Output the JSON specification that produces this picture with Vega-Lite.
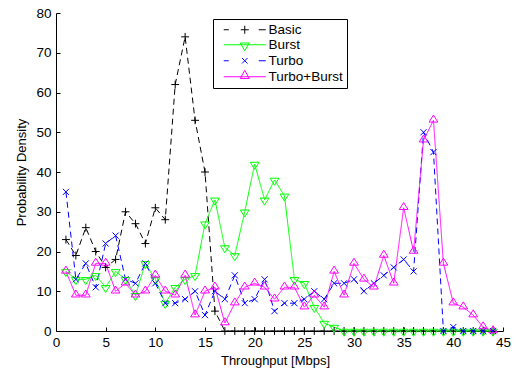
{
  "$schema": "https://vega.github.io/schema/vega-lite/v6.json",
  "width": 447,
  "height": 318,
  "autosize": "none",
  "padding": {"left": 56, "top": 13, "right": 17, "bottom": 43},
  "background": "white",
  "config": {
    "view": {"stroke": null},
    "font": "Liberation Sans",
    "axis": {
      "grid": false,
      "domainColor": "#000000",
      "tickColor": "#000000",
      "labelColor": "#000000",
      "titleColor": "#000000",
      "labelFont": "Liberation Sans",
      "titleFont": "Liberation Sans",
      "labelFontSize": 13.5,
      "titleFontSize": 13,
      "titleFontWeight": "normal",
      "tickSize": -4,
      "labelFlush": false,
      "labelOverlap": false
    },
    "legend": {
      "orient": "none",
      "legendX": 157,
      "legendY": 6,
      "padding": 4,
      "strokeColor": "#000000",
      "fillColor": "#ffffff",
      "labelFont": "Liberation Sans",
      "labelFontSize": 13.5,
      "labelColor": "#000000",
      "rowPadding": 0,
      "symbolSize": 100,
      "symbolStrokeWidth": 1,
      "symbolOffset": 21,
      "labelOffset": 17,
      "cornerRadius": 0
    }
  },
  "data": {
    "values": [
      {"x": 1, "y": 23, "s": "Basic"}, {"x": 2, "y": 19, "s": "Basic"}, {"x": 3, "y": 26, "s": "Basic"}, {"x": 4, "y": 20, "s": "Basic"},
      {"x": 5, "y": 16, "s": "Basic"}, {"x": 6, "y": 18, "s": "Basic"}, {"x": 7, "y": 30, "s": "Basic"}, {"x": 8, "y": 27, "s": "Basic"},
      {"x": 9, "y": 22, "s": "Basic"}, {"x": 10, "y": 31, "s": "Basic"}, {"x": 11, "y": 28, "s": "Basic"}, {"x": 12, "y": 62, "s": "Basic"},
      {"x": 13, "y": 74, "s": "Basic"}, {"x": 14, "y": 53, "s": "Basic"}, {"x": 15, "y": 40, "s": "Basic"}, {"x": 16, "y": 5, "s": "Basic"},
      {"x": 17, "y": 0, "s": "Basic"}, {"x": 18, "y": 0, "s": "Basic"}, {"x": 19, "y": 0, "s": "Basic"}, {"x": 20, "y": 0, "s": "Basic"},
      {"x": 21, "y": 0, "s": "Basic"}, {"x": 22, "y": 0, "s": "Basic"}, {"x": 23, "y": 0, "s": "Basic"}, {"x": 24, "y": 0, "s": "Basic"},
      {"x": 25, "y": 0, "s": "Basic"}, {"x": 26, "y": 0, "s": "Basic"}, {"x": 27, "y": 0, "s": "Basic"}, {"x": 28, "y": 0, "s": "Basic"},
      {"x": 29, "y": 0, "s": "Basic"}, {"x": 30, "y": 0, "s": "Basic"}, {"x": 31, "y": 0, "s": "Basic"}, {"x": 32, "y": 0, "s": "Basic"},
      {"x": 33, "y": 0, "s": "Basic"}, {"x": 34, "y": 0, "s": "Basic"}, {"x": 35, "y": 0, "s": "Basic"}, {"x": 36, "y": 0, "s": "Basic"},
      {"x": 37, "y": 0, "s": "Basic"}, {"x": 38, "y": 0, "s": "Basic"}, {"x": 39, "y": 0, "s": "Basic"}, {"x": 40, "y": 0, "s": "Basic"},
      {"x": 41, "y": 0, "s": "Basic"}, {"x": 42, "y": 0, "s": "Basic"}, {"x": 43, "y": 0, "s": "Basic"}, {"x": 44, "y": 0, "s": "Basic"},

      {"x": 1, "y": 15, "s": "Burst"}, {"x": 2, "y": 13, "s": "Burst"}, {"x": 3, "y": 13, "s": "Burst"}, {"x": 4, "y": 14, "s": "Burst"},
      {"x": 5, "y": 11, "s": "Burst"}, {"x": 6, "y": 15, "s": "Burst"}, {"x": 7, "y": 13, "s": "Burst"}, {"x": 8, "y": 9, "s": "Burst"},
      {"x": 9, "y": 17, "s": "Burst"}, {"x": 10, "y": 13, "s": "Burst"}, {"x": 11, "y": 7, "s": "Burst"}, {"x": 12, "y": 11, "s": "Burst"},
      {"x": 13, "y": 13, "s": "Burst"}, {"x": 14, "y": 14, "s": "Burst"}, {"x": 15, "y": 27, "s": "Burst"}, {"x": 16, "y": 33, "s": "Burst"},
      {"x": 17, "y": 21, "s": "Burst"}, {"x": 18, "y": 19, "s": "Burst"}, {"x": 19, "y": 30, "s": "Burst"}, {"x": 20, "y": 42, "s": "Burst"},
      {"x": 21, "y": 33, "s": "Burst"}, {"x": 22, "y": 38, "s": "Burst"}, {"x": 23, "y": 34, "s": "Burst"}, {"x": 24, "y": 13, "s": "Burst"},
      {"x": 25, "y": 12, "s": "Burst"}, {"x": 26, "y": 6, "s": "Burst"}, {"x": 27, "y": 2, "s": "Burst"}, {"x": 28, "y": 1, "s": "Burst"},
      {"x": 29, "y": 0, "s": "Burst"}, {"x": 30, "y": 0, "s": "Burst"}, {"x": 31, "y": 0, "s": "Burst"}, {"x": 32, "y": 0, "s": "Burst"},
      {"x": 33, "y": 0, "s": "Burst"}, {"x": 34, "y": 0, "s": "Burst"}, {"x": 35, "y": 0, "s": "Burst"}, {"x": 36, "y": 0, "s": "Burst"},
      {"x": 37, "y": 0, "s": "Burst"}, {"x": 38, "y": 0, "s": "Burst"}, {"x": 39, "y": 0, "s": "Burst"}, {"x": 40, "y": 0, "s": "Burst"},
      {"x": 41, "y": 0, "s": "Burst"}, {"x": 42, "y": 0, "s": "Burst"}, {"x": 43, "y": 0, "s": "Burst"}, {"x": 44, "y": 0, "s": "Burst"},

      {"x": 1, "y": 35, "s": "Turbo"}, {"x": 2, "y": 13, "s": "Turbo"}, {"x": 3, "y": 17, "s": "Turbo"}, {"x": 4, "y": 11, "s": "Turbo"},
      {"x": 5, "y": 22, "s": "Turbo"}, {"x": 6, "y": 24, "s": "Turbo"}, {"x": 7, "y": 13, "s": "Turbo"}, {"x": 8, "y": 12, "s": "Turbo"},
      {"x": 9, "y": 17, "s": "Turbo"}, {"x": 10, "y": 12, "s": "Turbo"}, {"x": 11, "y": 7, "s": "Turbo"}, {"x": 12, "y": 7, "s": "Turbo"},
      {"x": 13, "y": 8, "s": "Turbo"}, {"x": 14, "y": 10, "s": "Turbo"}, {"x": 15, "y": 4, "s": "Turbo"}, {"x": 16, "y": 10, "s": "Turbo"},
      {"x": 17, "y": 8, "s": "Turbo"}, {"x": 18, "y": 14, "s": "Turbo"}, {"x": 19, "y": 7, "s": "Turbo"}, {"x": 20, "y": 8, "s": "Turbo"},
      {"x": 21, "y": 13, "s": "Turbo"}, {"x": 22, "y": 5, "s": "Turbo"}, {"x": 23, "y": 7, "s": "Turbo"}, {"x": 24, "y": 7, "s": "Turbo"},
      {"x": 25, "y": 8, "s": "Turbo"}, {"x": 26, "y": 10, "s": "Turbo"}, {"x": 27, "y": 8, "s": "Turbo"}, {"x": 28, "y": 12, "s": "Turbo"},
      {"x": 29, "y": 12, "s": "Turbo"}, {"x": 30, "y": 13, "s": "Turbo"}, {"x": 31, "y": 10, "s": "Turbo"}, {"x": 32, "y": 12, "s": "Turbo"},
      {"x": 33, "y": 14, "s": "Turbo"}, {"x": 34, "y": 16, "s": "Turbo"}, {"x": 35, "y": 18, "s": "Turbo"}, {"x": 36, "y": 15, "s": "Turbo"},
      {"x": 37, "y": 50, "s": "Turbo"}, {"x": 38, "y": 45, "s": "Turbo"}, {"x": 39, "y": 0, "s": "Turbo"}, {"x": 40, "y": 1, "s": "Turbo"},
      {"x": 41, "y": 0, "s": "Turbo"}, {"x": 42, "y": 0, "s": "Turbo"}, {"x": 43, "y": 0, "s": "Turbo"}, {"x": 44, "y": 0, "s": "Turbo"},

      {"x": 1, "y": 15, "s": "Turbo+Burst"}, {"x": 2, "y": 9, "s": "Turbo+Burst"}, {"x": 3, "y": 9, "s": "Turbo+Burst"}, {"x": 4, "y": 17, "s": "Turbo+Burst"},
      {"x": 5, "y": 17, "s": "Turbo+Burst"}, {"x": 6, "y": 10, "s": "Turbo+Burst"}, {"x": 7, "y": 12, "s": "Turbo+Burst"}, {"x": 8, "y": 9, "s": "Turbo+Burst"},
      {"x": 9, "y": 10, "s": "Turbo+Burst"}, {"x": 10, "y": 14, "s": "Turbo+Burst"}, {"x": 11, "y": 10, "s": "Turbo+Burst"}, {"x": 12, "y": 9, "s": "Turbo+Burst"},
      {"x": 13, "y": 14, "s": "Turbo+Burst"}, {"x": 14, "y": 4, "s": "Turbo+Burst"}, {"x": 15, "y": 10, "s": "Turbo+Burst"}, {"x": 16, "y": 11, "s": "Turbo+Burst"},
      {"x": 17, "y": 2, "s": "Turbo+Burst"}, {"x": 18, "y": 7, "s": "Turbo+Burst"}, {"x": 19, "y": 11, "s": "Turbo+Burst"}, {"x": 20, "y": 12, "s": "Turbo+Burst"},
      {"x": 21, "y": 11, "s": "Turbo+Burst"}, {"x": 22, "y": 8, "s": "Turbo+Burst"}, {"x": 23, "y": 11, "s": "Turbo+Burst"}, {"x": 24, "y": 11, "s": "Turbo+Burst"},
      {"x": 25, "y": 6, "s": "Turbo+Burst"}, {"x": 26, "y": 9, "s": "Turbo+Burst"}, {"x": 27, "y": 6, "s": "Turbo+Burst"}, {"x": 28, "y": 15, "s": "Turbo+Burst"},
      {"x": 29, "y": 9, "s": "Turbo+Burst"}, {"x": 30, "y": 17, "s": "Turbo+Burst"}, {"x": 31, "y": 13, "s": "Turbo+Burst"}, {"x": 32, "y": 11, "s": "Turbo+Burst"},
      {"x": 33, "y": 19, "s": "Turbo+Burst"}, {"x": 34, "y": 12, "s": "Turbo+Burst"}, {"x": 35, "y": 31, "s": "Turbo+Burst"}, {"x": 36, "y": 20, "s": "Turbo+Burst"},
      {"x": 37, "y": 48, "s": "Turbo+Burst"}, {"x": 38, "y": 53, "s": "Turbo+Burst"}, {"x": 39, "y": 17, "s": "Turbo+Burst"}, {"x": 40, "y": 7, "s": "Turbo+Burst"},
      {"x": 41, "y": 6, "s": "Turbo+Burst"}, {"x": 42, "y": 4, "s": "Turbo+Burst"}, {"x": 43, "y": 1, "s": "Turbo+Burst"}, {"x": 44, "y": 0, "s": "Turbo+Burst"}
    ]
  },
  "encoding": {
    "x": {
      "field": "x", "type": "quantitative",
      "scale": {"domain": [0, 45], "nice": false, "zero": false},
      "axis": {"values": [0, 5, 10, 15, 20, 25, 30, 35, 40, 45], "title": "Throughput [Mbps]", "labelPadding": 8, "titlePadding": 6, "titleX": 219}
    },
    "y": {
      "field": "y", "type": "quantitative",
      "scale": {"domain": [0, 80], "nice": false},
      "axis": {"values": [0, 10, 20, 30, 40, 50, 60, 70, 80], "title": "Probability Density", "labelPadding": 9, "titlePadding": 7}
    }
  },
  "layer": [
    {
      "mark": {"type": "line", "strokeWidth": 1},
      "encoding": {
        "color": {"field": "s", "type": "nominal", "legend": null,
          "scale": {"domain": ["Basic", "Burst", "Turbo", "Turbo+Burst"], "range": ["#000000", "#00ff00", "#0000ff", "#ff00ff"]}},
        "strokeDash": {"field": "s", "type": "nominal", "legend": null,
          "scale": {"domain": ["Basic", "Burst", "Turbo", "Turbo+Burst"], "range": [[6, 4], [1, 0], [6, 4], [1, 0]]}}
      }
    },
    {
      "mark": {"type": "point", "filled": false, "strokeWidth": 1, "size": 77, "opacity": 1},
      "encoding": {
        "color": {"field": "s", "type": "nominal", "legend": null,
          "scale": {"domain": ["Basic", "Burst", "Turbo", "Turbo+Burst"], "range": ["#000000", "#00ff00", "#0000ff", "#ff00ff"]}},
        "shape": {"field": "s", "type": "nominal", "legend": null,
          "scale": {"domain": ["Basic", "Burst", "Turbo", "Turbo+Burst"],
            "range": ["M-0.9,0H0.9M0,-0.9V0.9", "M-1,-0.4L1,-0.4L0,1.2Z", "M-0.7,-0.7L0.7,0.7M-0.7,0.7L0.7,-0.7", "M-1,0.4L1,0.4L0,-1.2Z"]}}
      }
    },
    {
      "transform": [{"filter": "datum.y < 0"}],
      "mark": {"type": "point", "filled": false, "strokeWidth": 1, "size": 100, "opacity": 1},
      "encoding": {
        "color": {"field": "s", "type": "nominal", "legend": {"title": null},
          "scale": {"domain": ["Basic", "Burst", "Turbo", "Turbo+Burst"], "range": ["#000000", "#00ff00", "#0000ff", "#ff00ff"]}},
        "shape": {"field": "s", "type": "nominal", "legend": {"title": null},
          "scale": {"domain": ["Basic", "Burst", "Turbo", "Turbo+Burst"],
            "range": [
              "M-4.2,0H-3.2M2.8,0H4.2M-0.8,0H0.8M0,-0.8V0.8",
              "M-4.2,0H4.2M-0.9,-0.35L0.9,-0.35L0,1.2Z",
              "M-4.2,0H-3.2M2.8,0H4.2M-0.55,-0.55L0.55,0.55M-0.55,0.55L0.55,-0.55",
              "M-4.2,0H4.2M-0.9,0.35L0.9,0.35L0,-1.3Z"
            ]}}
      }
    }
  ],
  "resolve": {"scale": {"color": "independent", "shape": "independent", "strokeDash": "independent"}}
}
